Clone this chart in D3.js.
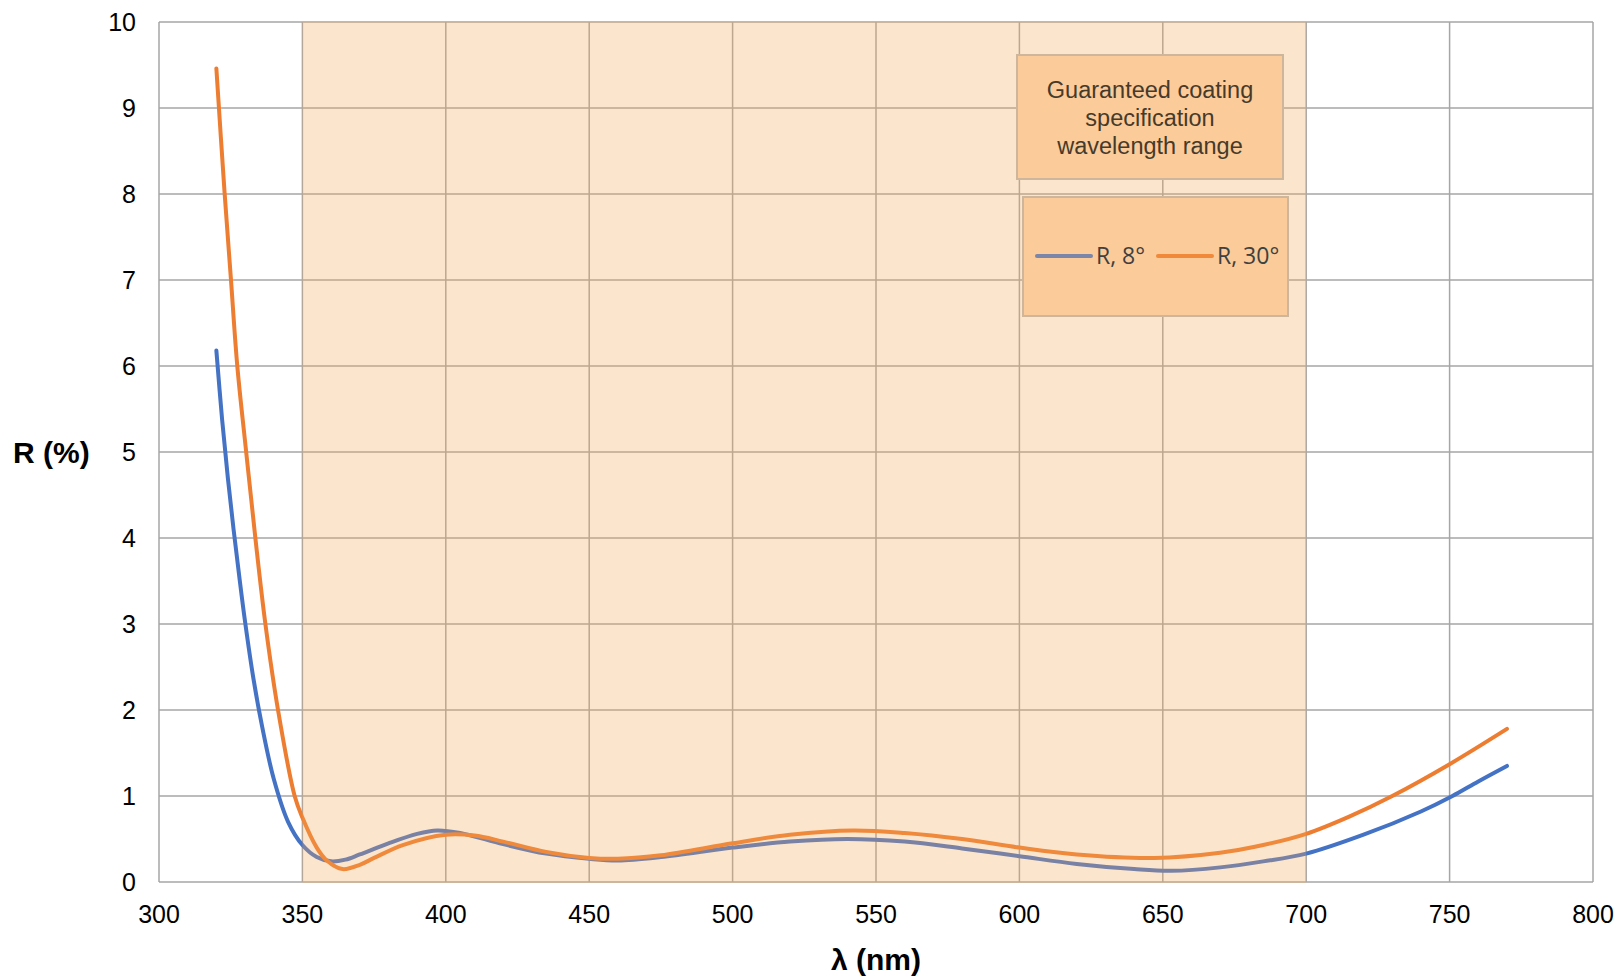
<!DOCTYPE html>
<html>
<head>
<meta charset="utf-8">
<script src="https://cdn.jsdelivr.net/npm/d3@7"></script>
<style>
  body { margin: 0; background: #fff; }
  svg { display: block; }
</style>
</head>
<body>
<svg id="chart"></svg>
<script>
// Reflectance vs wavelength
const wl8 = [320, 322, 324, 326, 328, 330, 333, 336, 340, 345, 350, 355, 360, 365, 370, 380, 390, 397, 405, 420, 435, 450, 460, 475, 500, 520, 540, 560, 580, 600, 620, 640, 653, 670, 685, 700, 720, 740, 751, 760, 770];
const r8  = [6.18, 5.38, 4.7, 4.1, 3.55, 3.03, 2.35, 1.8, 1.2, 0.7, 0.43, 0.29, 0.24, 0.26, 0.32, 0.45, 0.56, 0.6, 0.57, 0.44, 0.33, 0.27, 0.25, 0.29, 0.4, 0.47, 0.5, 0.47, 0.39, 0.3, 0.21, 0.15, 0.13, 0.17, 0.24, 0.33, 0.55, 0.82, 1.0, 1.17, 1.35];

const wl30 = [320, 322.9, 325.1, 327.3, 330.4, 333.6, 337.1, 341.5, 347.3, 350, 355, 358.5, 364, 370, 375, 385, 400, 410, 420, 435, 450, 460, 475, 500, 520, 542, 560, 580, 600, 620, 647, 670, 685, 700, 715, 730, 750, 770];
const r30  = [9.46, 8.0, 7.0, 6.0, 5.0, 4.0, 3.0, 2.0, 1.0, 0.75, 0.4, 0.25, 0.15, 0.2, 0.28, 0.43, 0.55, 0.54, 0.47, 0.35, 0.28, 0.27, 0.31, 0.45, 0.55, 0.6, 0.57, 0.5, 0.4, 0.32, 0.28, 0.34, 0.43, 0.56, 0.76, 1.0, 1.37, 1.78];

const xTicks = [300, 350, 400, 450, 500, 550, 600, 650, 700, 750, 800];
const yTicks = [0, 1, 2, 3, 4, 5, 6, 7, 8, 9, 10];
const specRange = [350, 700];
const seriesNames = ["R, 8°", "R, 30°"];
const seriesColors = ["#4472C4", "#ED7D31"];
const legendColors = ["#7B86A8", "#F08A3A"];
const noteLines = ["Guaranteed coating", "specification", "wavelength range"];

const W = 1623, H = 979;
const m = { left: 159, top: 22, right: 1593, bottom: 882 };

const svg = d3.select("#chart").attr("width", W).attr("height", H);

const x = d3.scaleLinear().domain([300, 800]).range([m.left, m.right]);
const y = d3.scaleLinear().domain([0, 10]).range([m.bottom, m.top]);

// gridlines
const grid = svg.append("g").attr("stroke", "#A6A6A6").attr("stroke-width", 1.5);
grid.selectAll("line.h").data(yTicks).join("line")
  .attr("x1", m.left).attr("x2", m.right)
  .attr("y1", d => y(d)).attr("y2", d => y(d));
grid.selectAll("line.v").data(xTicks).join("line")
  .attr("y1", m.top).attr("y2", m.bottom)
  .attr("x1", d => x(d)).attr("x2", d => x(d));

// tick labels
svg.append("g")
  .attr("font-family", "'Liberation Sans', Arial, sans-serif")
  .attr("font-size", 25).attr("fill", "#000")
  .selectAll("text").data(yTicks).join("text")
  .attr("x", 136).attr("y", d => y(d)).attr("dy", "0.36em")
  .attr("text-anchor", "end")
  .text(d => d);

svg.append("g")
  .attr("font-family", "'Liberation Sans', Arial, sans-serif")
  .attr("font-size", 25).attr("fill", "#000")
  .selectAll("text").data(xTicks).join("text")
  .attr("x", d => x(d)).attr("y", 923)
  .attr("text-anchor", "middle")
  .text(d => d);

// axis titles
svg.append("text")
  .attr("x", 13).attr("y", 452).attr("dy", "0.36em")
  .attr("font-family", "'Liberation Sans', Arial, sans-serif")
  .attr("font-size", 30).attr("font-weight", "bold")
  .text("R (%)");

svg.append("text")
  .attr("x", (m.left + m.right) / 2).attr("y", 970)
  .attr("text-anchor", "middle")
  .attr("font-family", "'Liberation Sans', Arial, sans-serif")
  .attr("font-size", 30).attr("font-weight", "bold")
  .text("λ (nm)");

// curves
const line = d3.line()
  .x(d => x(d[0]))
  .y(d => y(d[1]))
  .curve(d3.curveCatmullRom.alpha(0.5));

const series = [d3.zip(wl8, r8), d3.zip(wl30, r30)];
svg.append("g").selectAll("path").data(series).join("path")
  .attr("fill", "none")
  .attr("stroke", (d, i) => seriesColors[i])
  .attr("stroke-width", 4)
  .attr("stroke-linecap", "round")
  .attr("d", line);

// translucent spec range band on top
svg.append("rect")
  .attr("x", x(specRange[0])).attr("width", x(specRange[1]) - x(specRange[0]))
  .attr("y", m.top - 1).attr("height", m.bottom - m.top + 2)
  .attr("fill", "#F5A85A").attr("fill-opacity", 0.3);

// note box
const note = svg.append("g");
note.append("rect")
  .attr("x", 1017).attr("y", 55).attr("width", 266).attr("height", 124)
  .attr("fill", "#FBCB99").attr("stroke", "#CDB69C").attr("stroke-width", 2);
note.selectAll("text").data(noteLines).join("text")
  .attr("x", 1150).attr("y", (d, i) => 98 + i * 28)
  .attr("text-anchor", "middle")
  .attr("font-family", "'Liberation Sans', Arial, sans-serif")
  .attr("font-size", 23.5).attr("fill", "#463A2B")
  .text(d => d);

// legend
const leg = svg.append("g");
leg.append("rect")
  .attr("x", 1023).attr("y", 197).attr("width", 265).attr("height", 119)
  .attr("fill", "#FBCB99").attr("stroke", "#CDB69C").attr("stroke-width", 2);
const legX = [1037, 1158];
const item = leg.selectAll("g").data(seriesNames).join("g")
  .attr("transform", (d, i) => `translate(${legX[i]},256)`);
item.append("line")
  .attr("x1", 0).attr("x2", 54)
  .attr("stroke", (d, i) => legendColors[i]).attr("stroke-width", 4)
  .attr("stroke-linecap", "round");
item.append("text")
  .attr("x", 59).attr("dy", "0.36em")
  .attr("font-family", "'Open Sans', 'Noto Sans', sans-serif")
  .attr("font-size", 23).attr("fill", "#404040")
  .text(d => d);
</script>
</body>
</html>
